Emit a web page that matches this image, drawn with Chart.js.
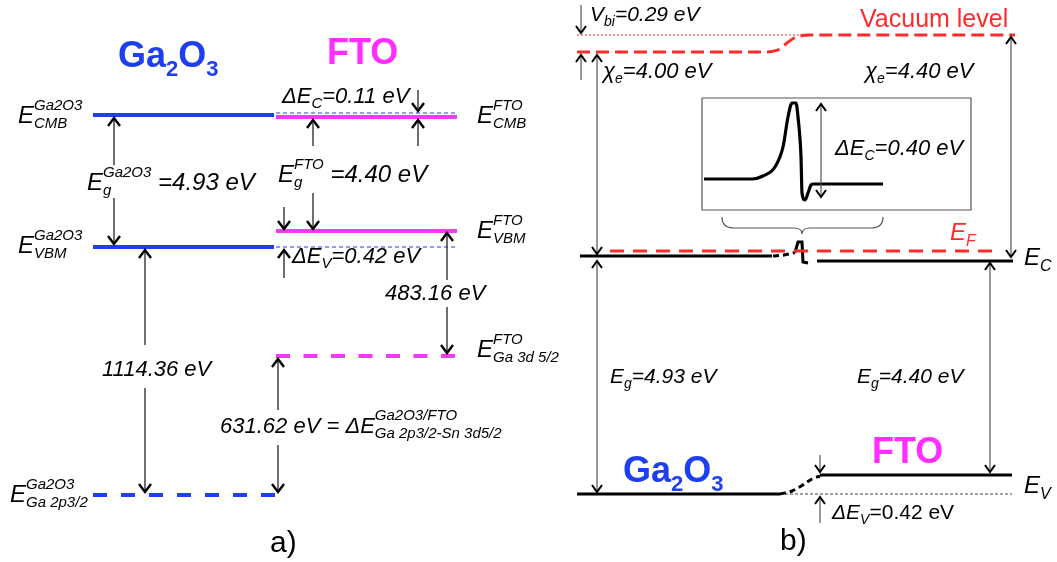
<!DOCTYPE html>
<html><head><meta charset="utf-8">
<script src="https://cdn.jsdelivr.net/npm/chart.js@4.4.1/dist/chart.umd.min.js"></script>
<style>
html,body{margin:0;padding:0;background:#fff;}
#wrap{position:relative;width:1057px;height:562px;overflow:hidden;background:#fff;}
#ca{position:absolute;left:0;top:0;}
#cb{position:absolute;left:560px;top:0;}
</style></head><body>
<div id="wrap"><canvas id="ca" width="560" height="562"></canvas><canvas id="cb" width="497" height="562"></canvas></div>
<script>
// ---------------- DATA ----------------
// Panel a) : schematic level diagram (vertical = schematic depth, not to scale)
const aLevelNames = ['Ga2O3 CBM','Ga2O3 VBM','Ga2O3 Ga 2p3/2','FTO CBM','FTO VBM','FTO Ga 3d5/2','Ga2O3 CBM (ref)','Ga2O3 VBM (ref)'];
const aLevelDepth = [115, 247, 495, 117, 231, 356, 113, 247];
const aLevelFrom  = [93, 93, 93, 276, 276, 276, 276, 276];
const aLevelTo    = [274, 274, 275, 457, 457, 457, 457, 457];
// arrows: position, start depth, end depth (head at end)
const aArrowX    = [114, 114, 145, 145, 278, 278, 447, 447, 313, 313, 284, 284, 418, 418];
const aArrowFrom = [165, 198, 345, 388, 410, 445, 280, 307, 146, 193, 207, 278,  90, 146];
const aArrowTo   = [118, 244, 250, 492, 359, 492, 233, 353, 120, 229, 229, 250, 111, 120];
const aTexts = [
  'E_{CMB}^{Ga2O3}', 'E_{VBM}^{Ga2O3}', 'E_{g}^{Ga2O3} =4.93 eV', 'E_{g}^{FTO} =4.40 eV',
  'ΔE_{C}=0.11 eV', 'ΔE_{V}=0.42 eV', 'E_{CMB}^{FTO}', 'E_{VBM}^{FTO}', 'E_{Ga 3d 5/2}^{FTO}',
  'E_{Ga 2p3/2}^{Ga2O3}', '483.16 eV', '1114.36 eV', '631.62 eV = ΔE_{Ga 2p3/2-Sn 3d5/2}^{Ga2O3/FTO}'
];
const aTextX = [18, 18, 87, 278, 282, 292, 477, 477, 477, 10, 385, 102, 220];
const aTextY = [123, 253, 190, 182, 103, 263, 123, 238, 357, 502, 300, 376, 433];

// Panel b) : band diagram, energies in eV (E_C of the junction ~ 0)
const bMaterials = ['Ga2O3', 'FTO'];
const bVacuum = [4.12, 4.46];
const bEc     = [0.04, -0.06];
const bEv     = [-4.72, -4.34];
const bEF     = 0.14;
const bSpanFrom = [577, 817];
const bSpanTo   = [772, 1013];
const bVacCurveX = [577, 765, 772, 780, 787, 794, 802, 810, 1015];
const bVacCurveE = [4.12, 4.12, 4.13, 4.18, 4.30, 4.40, 4.45, 4.46, 4.46];
const bEvCurveX = [780, 792, 802, 812, 820];
const bEvCurveE = [-4.72, -4.66, -4.55, -4.42, -4.36];
const bEcBendX = [773, 784, 795];
const bEcBendE = [0.04, 0.06, 0.11];
const bSpikeX = [795, 798, 802, 803, 808];
const bSpikeE = [0.11, 0.32, 0.32, -0.08, -0.10];
const bInsetX = [704, 752, 763, 775, 783, 788, 792, 796, 798, 801, 802, 805, 808, 811, 813, 883];
const bInsetE = [1.58, 1.58, 1.64, 1.82, 2.22, 2.82, 3.10, 3.10, 2.82, 2.02, 1.30, 1.16, 1.30, 1.46, 1.48, 1.48];
const bArrowX    = [581, 581, 597, 1011, 821, 597, 990, 820, 820];
const bArrowFrom = [5.06, 3.56, 4.06, 4.42, 3.08, -0.06, -0.10, -3.94, -5.30];
const bArrowTo   = [4.50, 4.06, 0.08, 0.02, 1.22, -4.68, -4.28, -4.28, -4.78];
const bArrowBoth = [false, false, true, true, true, true, true, false, false];
const bTexts = ['Vacuum level', 'V_{bi}=0.29 eV', 'χ_{e}=4.00 eV', 'χ_{e}=4.40 eV', 'ΔE_{C}=0.40 eV',
  'E_{F}', 'E_{C}', 'E_{g}=4.93 eV', 'E_{g}=4.40 eV', 'E_{V}', 'ΔE_{V}~=0.42 eV'];
const bTextX = [860, 590, 603, 865, 835, 950, 1024, 610, 857, 1024, 832];
const bTextE = [4.62, 4.74, 3.60, 3.60, 2.06, 0.36, -0.14, -2.50, -2.50, -4.70, -5.22];

// ---------------- STYLE ----------------
const FONT = '"Liberation Sans", Arial, Helvetica, sans-serif';
const BLUE = '#1e3ef2', MAG = '#f03cf0', MAGT = '#ff2eff', RED = '#ff2b2b';

function pts(xs, ys) { return xs.map((x, i) => ({ x, y: ys[i] })); }

// rich text: _{sub} ^{sup}, '~' toggles italic
function parseRich(str) {
  const items = []; let i = 0, tog = false;
  while (i < str.length) {
    const c = str[i];
    if ((c === '_' || c === '^') && str[i + 1] === '{') {
      const j = str.indexOf('}', i);
      const t = str.slice(i + 2, j);
      const key = c === '_' ? 'sub' : 'sup';
      const last = items[items.length - 1];
      if (last && last.type === 'script' && last[key] == null && !last.closed) { last[key] = t; last.closed = true; }
      else items.push({ type: 'script', sub: key === 'sub' ? t : null, sup: key === 'sup' ? t : null, tog });
      i = j + 1;
    } else if (c === '~') { tog = !tog; i++; }
    else {
      const last = items[items.length - 1];
      if (last && last.type === 'text' && last.tog === tog) last.t += c;
      else items.push({ type: 'text', t: c, tog });
      i++;
    }
  }
  return items;
}
function font(size, italic, bold) { return (italic ? 'italic ' : '') + (bold ? 'bold ' : '') + size + 'px ' + FONT; }
function drawRich(ctx, str, x, y, o) {
  const size = o.size || 22, ss = o.ss || Math.round(size * 0.64);
  const subDy = o.subDy != null ? o.subDy : size * 0.22, supDy = o.supDy != null ? o.supDy : -size * 0.58;
  const items = parseRich(str);
  ctx.save(); ctx.fillStyle = o.color || '#000'; ctx.textBaseline = 'alphabetic'; ctx.textAlign = 'left';
  let cx = x;
  for (const it of items) {
    const ital = (o.italic ? !it.tog : it.tog);
    if (it.type === 'text') {
      ctx.font = font(size, ital, o.bold); ctx.fillText(it.t, cx, y); cx += ctx.measureText(it.t).width;
    } else {
      ctx.font = font(ss, ital, o.bold);
      let w = 0;
      if (it.sup) { ctx.fillText(it.sup, cx, y + supDy); w = Math.max(w, ctx.measureText(it.sup).width); }
      if (it.sub) { ctx.fillText(it.sub, cx, y + subDy); w = Math.max(w, ctx.measureText(it.sub).width); }
      cx += w;
    }
  }
  ctx.restore();
}
function drawArrow(ctx, xs, ys, x, v0, v1, both, st) {
  const px = xs.getPixelForValue(x), p0 = ys.getPixelForValue(v0), p1 = ys.getPixelForValue(v1);
  ctx.save(); ctx.lineCap = 'butt';
  ctx.strokeStyle = st.shaft; ctx.lineWidth = st.sw;
  ctx.beginPath(); ctx.moveTo(px, p0); ctx.lineTo(px, p1); ctx.stroke();
  const head = (tip, dir) => {
    ctx.strokeStyle = st.head; ctx.lineWidth = st.hw; ctx.lineJoin = 'miter';
    ctx.beginPath(); ctx.moveTo(px - st.w, tip - dir * st.l); ctx.lineTo(px, tip); ctx.lineTo(px + st.w, tip - dir * st.l); ctx.stroke();
  };
  head(p1, Math.sign(p1 - p0)); if (both) head(p0, Math.sign(p0 - p1));
  ctx.restore();
}
function baseOptions(xmin, xmax, ymin, ymax, reverse) {
  return {
    responsive: false, animation: false, devicePixelRatio: 1,
    layout: { padding: 0 },
    plugins: { legend: { display: false }, tooltip: { enabled: false } },
    elements: { point: { radius: 0, hoverRadius: 0 } },
    scales: {
      x: { type: 'linear', min: xmin, max: xmax, display: false },
      y: { type: 'linear', min: ymin, max: ymax, reverse: reverse, display: false }
    }
  };
}
function lineDs(data, color, width, dash, extra) {
  return Object.assign({ data, showLine: true, borderColor: color, backgroundColor: color, borderWidth: width,
    borderDash: dash || [], pointRadius: 0, fill: false, tension: 0, clip: false }, extra || {});
}

// ---------------- PANEL A ----------------
const aStyle = {
  'Ga2O3 CBM': [BLUE, 4, []], 'Ga2O3 VBM': [BLUE, 4, []], 'Ga2O3 Ga 2p3/2': [BLUE, 4, [14, 14]],
  'FTO CBM': [MAG, 4, []], 'FTO VBM': [MAG, 4, []], 'FTO Ga 3d5/2': [MAG, 4, [14, 13.5]],
  'Ga2O3 CBM (ref)': [BLUE, 1.2, [4, 3]], 'Ga2O3 VBM (ref)': [BLUE, 1.2, [4, 3]]
};
const dsA = aLevelNames.map((n, i) => {
  const s = aStyle[n];
  return lineDs(pts([aLevelFrom[i], aLevelTo[i]], [aLevelDepth[i], aLevelDepth[i]]), s[0], s[1], s[2]);
});
const aTextOpts = aTexts.map((t, i) => {
  if (t.startsWith('E_')) return { size: 24, italic: true, ss: 15, subDy: 5, supDy: -13 };
  if (t.startsWith('631')) return { size: 22, italic: true, ss: 15, subDy: 5, supDy: -13 };
  return { size: 22, italic: true, ss: 15, subDy: 5, supDy: -14 };
});
const annotA = {
  id: 'annotA',
  afterDatasetsDraw(chart) {
    const { ctx, scales: { x, y } } = chart;
    const st = { shaft: '#333', sw: 1.4, head: '#000', hw: 2.4, w: 6, l: 8 };
    aArrowX.forEach((ax, i) => drawArrow(ctx, x, y, ax, aArrowFrom[i], aArrowTo[i], false, st));
    aTexts.forEach((t, i) => drawRich(ctx, t, x.getPixelForValue(aTextX[i]), y.getPixelForValue(aTextY[i]), aTextOpts[i]));
    drawRich(ctx, 'Ga_{2}O_{3}', x.getPixelForValue(118), y.getPixelForValue(67), { size: 36, bold: true, color: BLUE, ss: 22, subDy: 9 });
    drawRich(ctx, 'FTO', x.getPixelForValue(327), y.getPixelForValue(64), { size: 36, bold: true, color: MAGT });
    drawRich(ctx, 'a)', x.getPixelForValue(270), y.getPixelForValue(552), { size: 30 });
  }
};
new Chart(document.getElementById('ca'), {
  type: 'scatter', data: { datasets: dsA }, options: baseOptions(0, 560, 0, 562, true), plugins: [annotA]
});

// ---------------- PANEL B ----------------
const pxPerEV = 50, ecPix = 258;
const bYmax = ecPix / pxPerEV, bYmin = (ecPix - 562) / pxPerEV;
const dsB = [];
// thin dotted continuation of FTO vacuum level over Ga2O3 side
dsB.push(lineDs(pts([bSpanFrom[0], 800], [bVacuum[1], bVacuum[1]]), RED, 1, [2, 2]));
// vacuum level (bent)
dsB.push(lineDs(pts(bVacCurveX, bVacCurveE), RED, 3, [13, 6], { cubicInterpolationMode: 'monotone' }));
// Fermi level
dsB.push(lineDs(pts([610, 992], [bEF, bEF]), RED, 3, [14, 9]));
// conduction band
dsB.push(lineDs(pts([580, bSpanTo[0]], [bEc[0], bEc[0]]), '#000', 3.2));
dsB.push(lineDs(pts(bEcBendX, bEcBendE), '#000', 3, [6, 4], { cubicInterpolationMode: 'monotone' }));
dsB.push(lineDs(pts(bSpikeX, bSpikeE), '#000', 3));
dsB.push(lineDs(pts([bSpanFrom[1], bSpanTo[1]], [bEc[1], bEc[1]]), '#000', 3.2));
// valence band
dsB.push(lineDs(pts([bSpanFrom[0], 780], [bEv[0], bEv[0]]), '#000', 3.2));
dsB.push(lineDs(pts(bEvCurveX, bEvCurveE), '#000', 3, [6, 4], { cubicInterpolationMode: 'monotone' }));
dsB.push(lineDs(pts([820, 1012], [bEv[1], bEv[1]]), '#000', 3.2));
dsB.push(lineDs(pts([780, 1012], [bEv[0], bEv[0]]), '#444', 1, [3, 2]));
// inset box + spike detail
dsB.push(lineDs(pts([702, 971, 971, 702, 702], [3.2, 3.2, 0.96, 0.96, 3.2]), '#555', 1.2));
dsB.push(lineDs(pts(bInsetX, bInsetE), '#000', 3.2, [], { cubicInterpolationMode: 'monotone' }));

const annotB = {
  id: 'annotB',
  afterDatasetsDraw(chart) {
    const { ctx, scales: { x, y } } = chart;
    const st = { shaft: '#555', sw: 1.2, head: '#000', hw: 2, w: 5, l: 7 };
    bArrowX.forEach((ax, i) => drawArrow(ctx, x, y, ax, bArrowFrom[i], bArrowTo[i], bArrowBoth[i], st));
    // brace under inset
    const X = v => x.getPixelForValue(v), Y = v => y.getPixelForValue(v);
    const x0 = X(722), x1 = X(883), xc = X(802), yt = Y(0.82), ym = Y(0.60), yc = Y(0.48);
    ctx.save(); ctx.strokeStyle = '#555'; ctx.lineWidth = 1.2; ctx.beginPath();
    ctx.moveTo(x0, yt); ctx.quadraticCurveTo(x0, ym, x0 + 12, ym); ctx.lineTo(xc - 8, ym);
    ctx.quadraticCurveTo(xc, ym, xc, yc); ctx.quadraticCurveTo(xc, ym, xc + 8, ym);
    ctx.lineTo(x1 - 12, ym); ctx.quadraticCurveTo(x1, ym, x1, yt); ctx.stroke(); ctx.restore();
    const opts = [
      { size: 25, color: RED },
      { size: 21, italic: true, ss: 14, subDy: 5 },
      { size: 22, italic: true, ss: 14, subDy: 5 },
      { size: 22, italic: true, ss: 14, subDy: 5 },
      { size: 22, italic: true, ss: 14, subDy: 5 },
      { size: 24, italic: true, ss: 16, subDy: 6, color: RED },
      { size: 24, italic: true, ss: 16, subDy: 6 },
      { size: 21, italic: true, ss: 14, subDy: 5 },
      { size: 21, italic: true, ss: 14, subDy: 5 },
      { size: 24, italic: true, ss: 16, subDy: 6 },
      { size: 21, italic: true, ss: 14, subDy: 5 }
    ];
    bTexts.forEach((t, i) => drawRich(ctx, t, X(bTextX[i]), Y(bTextE[i]), opts[i]));
    drawRich(ctx, 'Ga_{2}O_{3}', X(623), Y(-4.48), { size: 36, bold: true, color: BLUE, ss: 22, subDy: 9 });
    drawRich(ctx, 'FTO', X(872), Y(-4.10), { size: 36, bold: true, color: MAGT });
    drawRich(ctx, 'b)', X(780), Y(-5.84), { size: 30 });
  }
};
new Chart(document.getElementById('cb'), {
  type: 'scatter', data: { datasets: dsB }, options: baseOptions(560, 1057, bYmin, bYmax, false), plugins: [annotB]
});
</script></body></html>
